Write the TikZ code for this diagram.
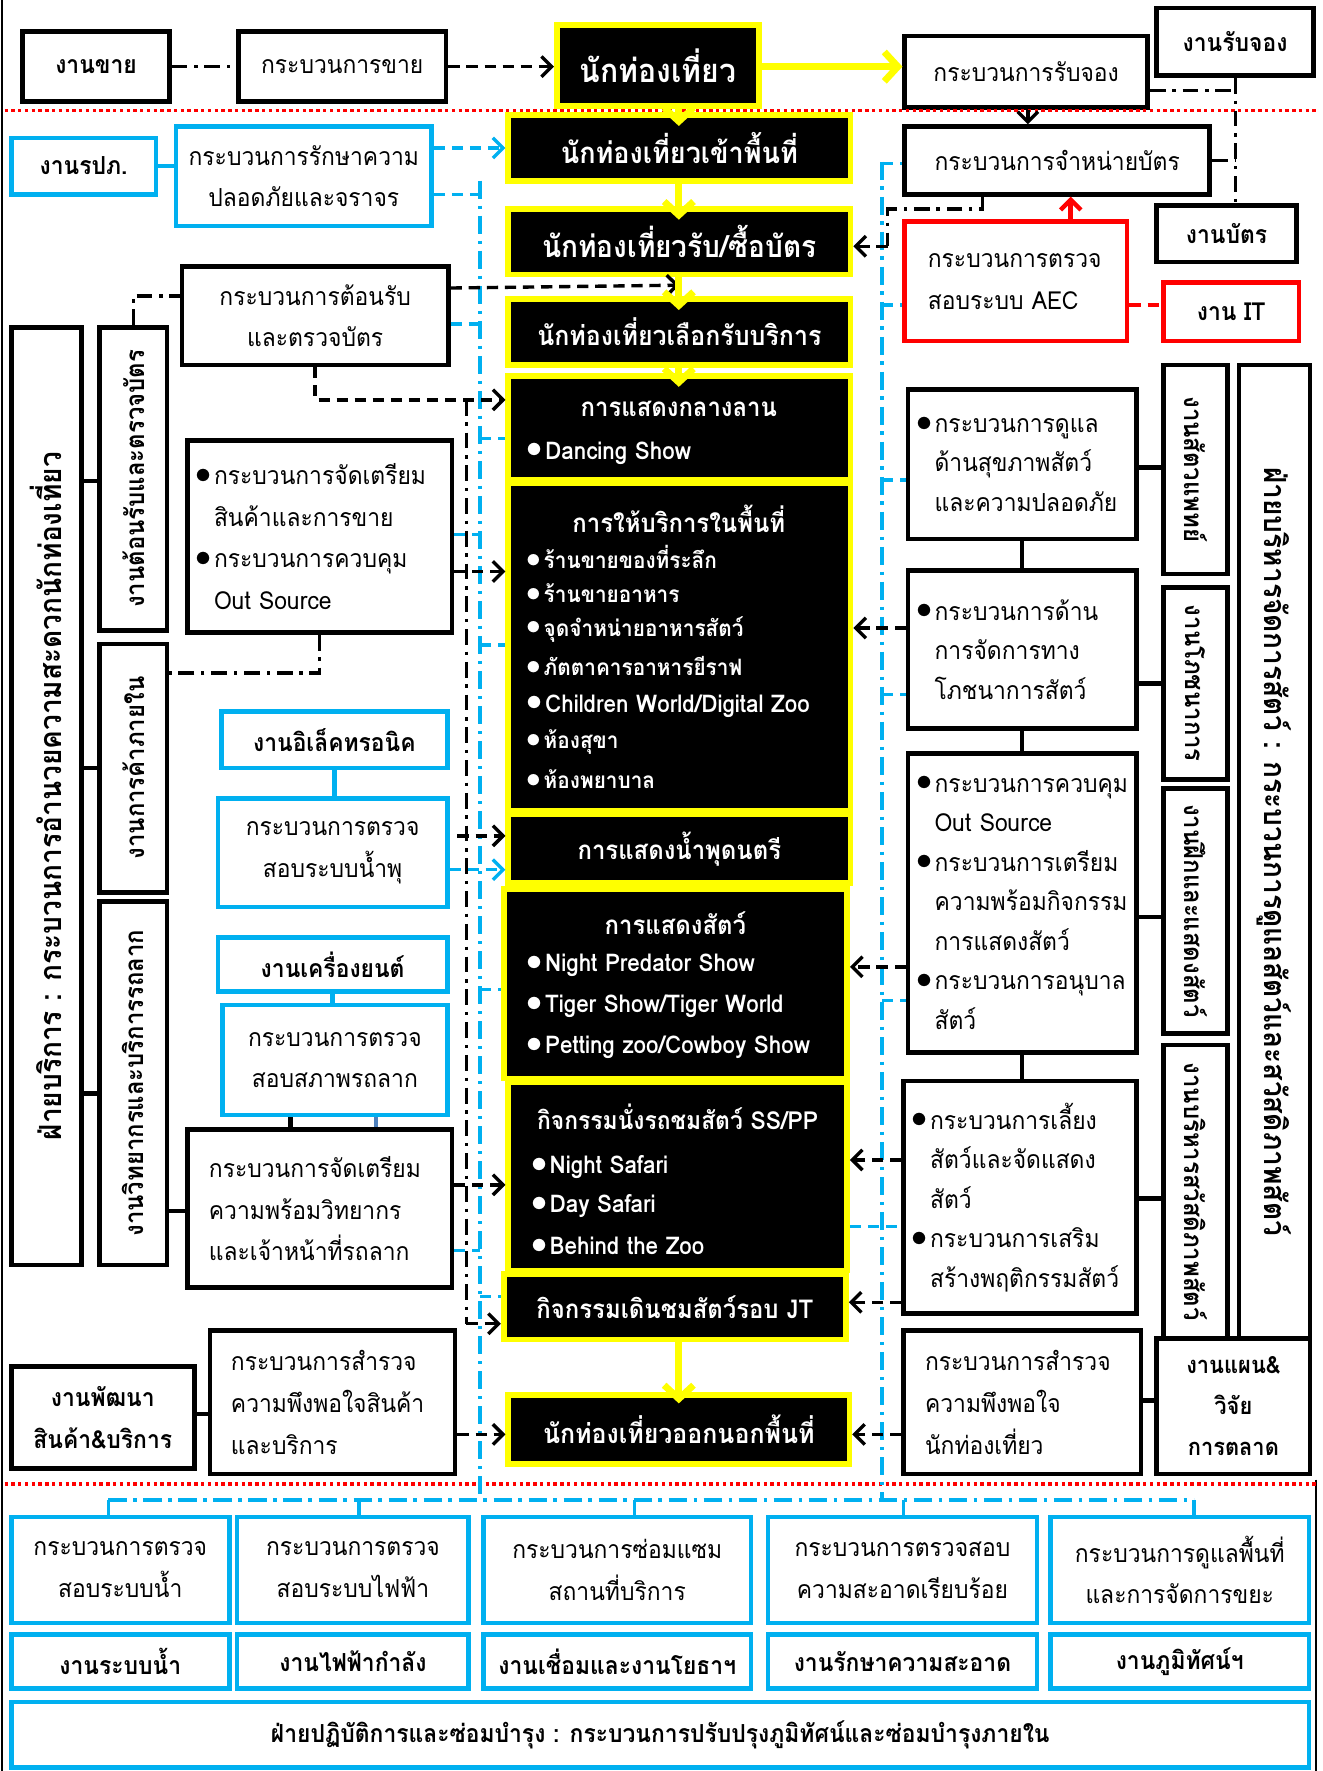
\documentclass[tikz,border=0pt]{standalone}
\usepackage{fontspec}
\usepackage{graphicx}
\setmainfont{Loma}[Script=Thai, FakeStretch=0.92]
\usetikzlibrary{arrows.meta,calc}
\definecolor{cblue}{HTML}{00B0F0}
\definecolor{cyel}{HTML}{FFFF00}
\definecolor{cred}{HTML}{FF0000}
\definecolor{csteel}{HTML}{4F81BD}
\newcommand\fN{\fontsize{11}{18.5}\selectfont}
\newcommand\fR{\fontsize{11}{17.5}\selectfont}
\newcommand\fB{\bfseries\fontsize{11}{18.5}\selectfont}
\newcommand\bu{\makebox[0.75em][l]{\raisebox{0.05em}{\scalebox{1.3}{$\bullet$}}}}
\newcommand\ii{\hspace*{0.75em}}
\newcommand\bx[7]{\node[#6, minimum width={(#4-(#2))*0.5pt}, minimum height={(#5-(#3))*0.5pt}] (#1) at ({((#2)+(#4))/2},{((#3)+(#5))/2}) {#7};}
\tikzset{
 bk/.style={draw=black, line width=2pt, fill=white, inner sep=1pt, align=center, font=\fN},
 bkb/.style={bk, font=\fB},
 bl/.style={bk, draw=cblue},
 blb/.style={bkb, draw=cblue},
 rd/.style={bk, draw=cred},
 rdb/.style={bkb, draw=cred},
 yb/.style={draw=cyel, line width=2.5pt, fill=black, text=white, inner sep=1pt, align=center},
 vt/.style={font=\bfseries\fontsize{11.5}{14}\selectfont, inner sep=0pt},
 ct/.style={text=white, inner sep=0pt, font=\bfseries\fontsize{11.5}{13}\selectfont},
 wb/.style={text=white, inner sep=0pt, anchor=west, font=\bfseries\fontsize{10}{12}\selectfont},
 wl/.style={wb, font=\bfseries\fontsize{10.8}{12}\selectfont},
 dd/.style={line width=1.5pt, dash pattern=on 7pt off 3pt on 1.5pt off 3pt},
 ds/.style={line width=1.5pt, dash pattern=on 5pt off 3pt},
 ar/.style={-{Straight Barb[length=4.5pt,width=9pt]}},
 bdd/.style={draw=cblue, line width=1.5pt, dash pattern=on 8pt off 3pt on 1.5pt off 3pt},
 bds/.style={draw=cblue, line width=1.5pt, dash pattern=on 5pt off 3pt},
 bsl/.style={draw=cblue, line width=2pt},
 ya/.style={draw=cyel, line width=3pt, -{Straight Barb[length=6pt,width=13pt]}},
 rdot/.style={draw=cred, line width=1.5pt, dash pattern=on 1.5pt off 1.5pt},
 bsol/.style={line width=2pt},
}
\begin{document}
\begin{tikzpicture}[x=0.5pt,y=-0.5pt]
\useasboundingbox (0,0) rectangle (1171,1568);
\coordinate (fL1) at (2,0); \coordinate (fL2) at (2,1568);
\coordinate (fR1) at (1165,1310); \coordinate (fR2) at (1165,1568);
\draw[line width=0.8pt] (fL1) -- (fL2);
\draw[line width=0.8pt] (fR1) -- (fR2);

% ---------- top row
\bx{sale}{20}{28}{150}{90}{bkb}{งานขาย}
\bx{saleP}{211}{28}{395}{90}{bk}{กระบวนการขาย}
\bx{T0}{493}{22}{672}{94}{yb, font=\bfseries\fontsize{14.5}{16}\selectfont}{นักท่องเที่ยว}
\bx{bookP}{801}{32}{1016}{95}{bk}{กระบวนการรับจอง}
\bx{bookW}{1024}{7}{1163}{67}{bkb}{งานรับจอง}

% ---------- red dotted separators
\coordinate (rA1) at (4,98); \coordinate (rA2) at (1168,98);
\coordinate (rB1) at (4,1314); \coordinate (rB2) at (1168,1314);
\draw[rdot] (rA1) -- (rA2);
\draw[rdot] (rB1) -- (rB2);

% ---------- second block
\bx{rpa}{10}{122}{138}{172}{blb}{งานรปภ.}
\bx{safeP}{156}{112}{382}{200}{bl}{กระบวนการรักษาความ\\ปลอดภัยและจราจร}
\bx{ticketP}{801}{112}{1071}{172}{bk}{กระบวนการจำหน่ายบัตร}
\bx{ticketW}{1024}{182}{1148}{232}{bkb}{งานบัตร}
\bx{AEC}{801}{196}{998}{302}{rd, text width=78pt, align=left}{กระบวนการตรวจ\\สอบระบบ AEC}
\bx{IT}{1030}{250}{1150}{302}{rdb}{งาน IT}
\bx{greetP}{161}{236}{397}{323}{bk}{กระบวนการต้อนรับ\\และตรวจบัตร}

% ---------- centre column
\bx{T1}{450}{102}{753}{160}{yb, font=\bfseries\fontsize{13}{15}\selectfont}{นักท่องเที่ยวเข้าพื้นที่}
\bx{T2}{450}{185}{753}{243}{yb, font=\bfseries\fontsize{13.5}{15}\selectfont}{นักท่องเที่ยวรับ/ซื้อบัตร}
\bx{T3}{450}{265}{753}{323}{yb, font=\bfseries\fontsize{12}{14}\selectfont}{นักท่องเที่ยวเลือกรับบริการ}
\bx{T4}{450}{333}{753}{425}{yb}{}
\bx{T5}{450}{428}{753}{718}{yb}{}
\bx{T6}{450}{721}{753}{782}{yb, font=\bfseries\fontsize{11.5}{14}\selectfont}{การแสดงน้ำพุดนตรี}
\bx{T7}{446}{787}{750}{955}{yb}{}
\bx{T8}{450}{958}{750}{1125}{yb}{}
\bx{T9}{446}{1128}{749}{1186}{yb, font=\bfseries\fontsize{11.5}{14}\selectfont}{กิจกรรมเดินชมสัตว์รอบ JT}
\bx{T10}{450}{1235}{752}{1296}{yb, font=\bfseries\fontsize{12}{14}\selectfont}{นักท่องเที่ยวออกนอกพื้นที่}

\node[ct] (T4t) at (601,362) {การแสดงกลางลาน};
\node[wl] (T4a) at (466,401) {\bu Dancing Show};
\node[ct] (T5t) at (601,459) {การให้บริการในพื้นที่};
\node[wb] (T5a) at (466,493) {\bu ร้านขายของที่ระลึก};
\node[wb] (T5b) at (466,525) {\bu ร้านขายอาหาร};
\node[wb] (T5c) at (466,557) {\bu จุดจำหน่ายอาหารสัตว์};
\node[wb] (T5d) at (466,590) {\bu ภัตตาคารอาหารยีราฟ};
\node[wl] (T5e) at (466,625) {\bu Children World/Digital Zoo};
\node[wb] (T5f) at (466,657) {\bu ห้องสุขา};
\node[wb] (T5g) at (466,690) {\bu ห้องพยาบาล};
\node[ct] (T7t) at (598,817) {การแสดงสัตว์};
\node[wl] (T7a) at (466,855) {\bu Night Predator Show};
\node[wl] (T7b) at (466,891) {\bu Tiger Show/Tiger World};
\node[wl] (T7c) at (466,927) {\bu Petting zoo/Cowboy Show};
\node[ct, font=\bfseries\fontsize{11}{13}\selectfont] (T8t) at (600,989) {กิจกรรมนั่งรถชมสัตว์ SS/PP};
\node[wl] (T8a) at (470,1033) {\bu Night Safari};
\node[wl] (T8b) at (470,1068) {\bu Day Safari};
\node[wl] (T8c) at (470,1103) {\bu Behind the Zoo};

% ---------- left column
\bx{Lbig}{10}{290}{72}{1120}{bk}{}
\bx{L1}{88}{290}{148}{558}{bk}{}
\bx{L2}{88}{570}{148}{790}{bk}{}
\bx{L3}{88}{798}{148}{1120}{bk}{}
\node[vt, rotate=90, font=\bfseries\fontsize{13.5}{15}\selectfont] (Lbigt) at (Lbig) {ฝ่ายบริการ : กระบวนการอำนวยความสะดวกนักท่องเที่ยว};
\node[vt, rotate=90] (L1t) at (L1) {งานต้อนรับและตรวจบัตร};
\node[vt, rotate=90] (L2t) at (L2) {งานการค้าภายใน};
\node[vt, rotate=90] (L3t) at (L3) {งานวิทยากรและบริการรถลาก};

\bx{goodsP}{166}{390}{400}{560}{bk, text width=110pt, align=left}{\bu กระบวนการจัดเตรียม\\\ii สินค้าและการขาย\\\bu กระบวนการควบคุม\\\ii Out Source}
\bx{elecW}{196}{630}{396}{680}{blb}{งานอิเล็คทรอนิค}
\bx{fountP}{193}{707}{396}{803}{bl}{กระบวนการตรวจ\\สอบระบบน้ำพุ}
\bx{engW}{193}{830}{396}{878}{blb}{งานเครื่องยนต์}
\bx{tramP}{197}{890}{396}{987}{bl}{กระบวนการตรวจ\\สอบสภาพรถลาก}
\bx{vitP}{166}{1000}{400}{1140}{bk, text width=98pt, align=left}{กระบวนการจัดเตรียม\\ความพร้อมวิทยากร\\และเจ้าหน้าที่รถลาก}
\bx{devW}{10}{1210}{172}{1300}{bkb}{งานพัฒนา\\สินค้า\&บริการ}
\bx{surveyL}{186}{1178}{403}{1305}{bk, text width=90pt, align=left}{กระบวนการสำรวจ\\ความพึงพอใจสินค้า\\และบริการ}

% ---------- right column
\bx{Rbig}{1097}{323}{1160}{1185}{bk}{}
\bx{vet}{1030}{323}{1087}{508}{bk}{}
\bx{nutr}{1030}{520}{1087}{690}{bk}{}
\bx{train}{1030}{698}{1087}{915}{bk}{}
\bx{welf}{1030}{925}{1087}{1185}{bk}{}
\node[vt, rotate=-90, font=\bfseries\fontsize{13.5}{16}\selectfont] (Rbigt) at (Rbig) {ฝ่ายบริหารจัดการสัตว์ : กระบวนการดูแลสัตว์และสวัสดิภาพสัตว์};
\node[vt, rotate=-90] (vett) at (vet) {งานสัตวแพทย์};
\node[vt, rotate=-90] (nutrt) at (nutr) {งานโภชนาการ};
\node[vt, rotate=-90] (traint) at (train) {งานฝึกและแสดงสัตว์};
\node[vt, rotate=-90] (welft) at (welf) {งานบริหารสวัสดิภาพสัตว์};

\bx{R1}{804}{345}{1006}{477}{bk, font=\fR, text width=94pt, align=left}{\bu กระบวนการดูแล\\\ii ด้านสุขภาพสัตว์\\\ii และความปลอดภัย}
\bx{R2}{804}{505}{1006}{645}{bk, font=\fR, text width=94pt, align=left}{\bu กระบวนการด้าน\\\ii การจัดการทาง\\\ii โภชนาการสัตว์}
\bx{R3}{804}{667}{1006}{932}{bk, font=\fR, text width=94pt, align=left}{\bu กระบวนการควบคุม\\\ii Out Source\\\bu กระบวนการเตรียม\\\ii ความพร้อมกิจกรรม\\\ii การแสดงสัตว์\\\bu กระบวนการอนุบาล\\\ii สัตว์}
\bx{R4}{800}{957}{1006}{1163}{bk, font=\fR, text width=96pt, align=left}{\bu กระบวนการเลี้ยง\\\ii สัตว์และจัดแสดง\\\ii สัตว์\\\bu กระบวนการเสริม\\\ii สร้างพฤติกรรมสัตว์}
\bx{surveyR}{800}{1178}{1010}{1305}{bk, text width=86pt, align=left}{กระบวนการสำรวจ\\ความพึงพอใจ\\นักท่องเที่ยว}
\bx{plan}{1024}{1185}{1160}{1305}{bkb, font=\bfseries\fontsize{10.5}{18}\selectfont}{งานแผน\&\\วิจัย\\การตลาด}

% ---------- bottom blocks
\bx{B1}{10}{1343}{203}{1437}{bl}{กระบวนการตรวจ\\สอบระบบน้ำ}
\bx{B2}{210}{1343}{415}{1437}{bl}{กระบวนการตรวจ\\สอบระบบไฟฟ้า}
\bx{B3}{428}{1343}{665}{1437}{bl}{กระบวนการซ่อมแซม\\สถานที่บริการ}
\bx{B4}{680}{1343}{918}{1437}{bl}{กระบวนการตรวจสอบ\\ความสะอาดเรียบร้อย}
\bx{B5}{930}{1343}{1159}{1437}{bl}{กระบวนการดูแลพื้นที่\\และการจัดการขยะ}
\bx{W1}{10}{1447}{203}{1495}{blb}{งานระบบน้ำ}
\bx{W2}{210}{1447}{415}{1495}{blb}{งานไฟฟ้ากำลัง}
\bx{W3}{428}{1447}{665}{1495}{blb}{งานเชื่อมและงานโยธาฯ}
\bx{W4}{680}{1447}{918}{1495}{blb}{งานรักษาความสะอาด}
\bx{W5}{930}{1447}{1159}{1495}{blb}{งานภูมิทัศน์ฯ}
\bx{Wall}{10}{1507}{1159}{1565}{blb}{ฝ่ายปฏิบัติการและซ่อมบำรุง : กระบวนการปรับปรุงภูมิทัศน์และซ่อมบำรุงภายใน}

% ---------- blue dash-dot rails
\coordinate (BL1) at (425,160); \coordinate (BL2) at (425,1328);
\coordinate (BR1) at (781,143); \coordinate (BR2) at (781,1328);
\coordinate (HB1) at (96,1328); \coordinate (HB2) at (1057,1328);
\draw[bdd] (BL1) -- (BL2);
\draw[bdd] (BR1) -- (BR2);
\draw[bdd] (HB1) -- (HB2);
\draw[draw=cblue, line width=1.5pt] (HB1) -- (B1.north -| HB1);
\draw[draw=cblue, line width=1.5pt] (B2.north -| 318,0) -- (HB1 -| 318,0);
\draw[draw=cblue, line width=1.5pt] (B3.north -| 562,0) -- (HB1 -| 562,0);
\draw[draw=cblue, line width=1.5pt] (B4.north -| 800,0) -- (HB1 -| 800,0);
\draw[draw=cblue, line width=1.5pt] (HB2) -- (B5.north -| HB2);

% blue ticks (left rail)
\draw[bds] (safeP.east |- 0,172) -- (BL1 |- 0,172);
\draw[bds] (greetP.east |- 0,287) -- (BL1 |- 0,287);
\draw[bds] (goodsP.east |- 0,473) -- (BL1 |- 0,473);
\draw[bds] (vitP.east |- 0,1107) -- (BL1 |- 0,1107);
\draw[bds] (BL1 |- 0,388) -- (T4.west |- 0,388);
\draw[bds] (BL1 |- 0,571) -- (T5.west |- 0,571);
\draw[bds] (BL1 |- 0,876) -- (T7.west |- 0,876);
\draw[bds] (BL1 |- 0,1148) -- (T9.west |- 0,1148);
% blue ticks (right rail)
\draw[bds] (BR1 |- 0,145) -- (ticketP.west |- 0,145);
\draw[bds] (BR1 |- 0,270) -- (AEC.west |- 0,270);
\draw[bds] (BR1 |- 0,425) -- (R1.west |- 0,425);
\draw[bds] (BR1 |- 0,615) -- (R2.west |- 0,615);
\draw[bds] (BR1 |- 0,886) -- (R3.west |- 0,886);
\draw[bds] (T8.east |- 0,1086) -- (R4.west |- 0,1086);

% blue solid links
\draw[bsl] (rpa.east) -- (rpa.east -| safeP.west);
\draw[bsl] (elecW.south) -- (elecW.south |- fountP.north);
\draw[bsl] (engW.south) -- (engW.south |- tramP.north);
\draw[draw=csteel, line width=2pt] (tramP.south -| 333,0) -- (vitP.north -| 333,0);
\draw[bds, ar] (safeP.east |- T1.west) -- (T1.west);
\draw[bds, ar] (fountP.east |- 0,770) -- (T6.west |- 0,770);

% ---------- black links, top
\draw[dd] (sale.east) -- (saleP.west);
\draw[ds, ar] (saleP.east) -- (saleP.east -| T0.west);
\coordinate (k1) at (1094,80);
\draw[dd] (bookP.east |- k1) -- (k1);
\draw[dd] (bookW.south -| k1) -- (ticketW.north -| k1);
\draw[dd] (ticketP.east) -- (ticketP.east -| k1);
\draw[line width=1.5pt, ar] (bookP.south -| 910,0) -- (ticketP.north -| 910,0);
\coordinate (k2) at (870,185); \coordinate (k3) at (786,185); \coordinate (k4) at (786,218);
\draw[dd] (ticketP.south -| k2) -- (k2) -- (k3) -- (k4);
\draw[ds, ar] (k4) -- (T2.east |- k4);
\draw[draw=cred, line width=2pt, ar] (AEC.north -| 948,0) -- (ticketP.south -| 948,0);
\draw[draw=cred, line width=2pt, dash pattern=on 5pt off 3pt] (AEC.east |- 0,270) -- (IT.west |- 0,270);

% ---------- black links, left
\draw[bsol] (Lbig.east |- 0,426) -- (L1.west |- 0,426);
\draw[bsol] (Lbig.east |- 0,680) -- (L2.west |- 0,680);
\draw[bsol] (Lbig.east |- 0,968) -- (L3.west |- 0,968);
\draw[bsol] (L3.east |- 0,1072) -- (vitP.west |- 0,1072);
\draw[bsol] (tramP.south -| 257,0) -- (vitP.north -| 257,0);
\draw[bsol] (devW.east |- 0,1252) -- (surveyL.west |- 0,1252);
\draw[dd] (L1.north) |- (greetP.west |- 0,262);
\draw[dd] (goodsP.south) |- (L2.east |- 0,596);
\draw[ds, ar] (greetP.east |- 0,255) -- ($(T3.north)+(0,-10)$);
\coordinate (V0) at (413,354); \coordinate (V1) at (413,1172);
\draw[ds, ar] (greetP.south) |- (T4.west |- V0);
\draw[dd] (V0) -- (V1);
\draw[ds, ar] (V1) -- (T9.west |- V1);
\draw[ds, ar] (goodsP.east |- 0,506) -- (T5.west |- 0,506);
\draw[ds, ar] ($(V0 |- 0,740)+(-8,0)$) -- (T6.west |- 0,740);
\draw[ds, ar] (vitP.east |- 0,1049) -- (T8.west |- 0,1049);
\draw[ds, ar] (surveyL.east |- 0,1270) -- (T10.west |- 0,1270);

% ---------- black links, right
\draw[bsol] (R1.south) -- (R1.south |- R2.north);
\draw[bsol] (R2.south) -- (R2.south |- R3.north);
\draw[bsol] (R3.south) -- (R3.south |- R4.north);
\draw[bsol] (R1.east |- 0,414) -- (vet.west |- 0,414);
\draw[bsol] (R2.east |- 0,605) -- (nutr.west |- 0,605);
\draw[bsol] (R3.east |- 0,812) -- (train.west |- 0,812);
\draw[bsol] (R4.east |- 0,1061) -- (welf.west |- 0,1061);
\draw[bsol] (surveyR.east |- 0,1240) -- (plan.west |- 0,1240);
\draw[ds, ar] (R2.west |- 0,556) -- (T5.east |- 0,556);
\draw[ds, ar] (R3.west |- 0,856) -- (T7.east |- 0,856);
\draw[ds, ar] (R4.west |- 0,1027) -- (T8.east |- 0,1027);
\draw[ds, ar] (R4.west |- 0,1153) -- (T9.east |- 0,1153);
\draw[ds, ar] (surveyR.west |- 0,1270) -- (T10.east |- 0,1270);

% ---------- yellow flow arrows
\draw[ya] (T0.east |- 0,59) -- (bookP.west |- 0,59);
\draw[ya] (T0.south -| 601,0) -- ($(T1.north -| 601,0)+(0,12)$);
\draw[ya] (T1.south -| 601,0) -- ($(T2.north -| 601,0)+(0,12)$);
\draw[ya] (T2.south -| 601,0) -- ($(T3.north -| 601,0)+(0,12)$);
\draw[ya] (T3.south -| 601,0) -- ($(T4.north -| 601,0)+(0,12)$);
\draw[ya] (T9.south -| 601,0) -- ($(T10.north -| 601,0)+(0,10)$);
\end{tikzpicture}
\end{document}
